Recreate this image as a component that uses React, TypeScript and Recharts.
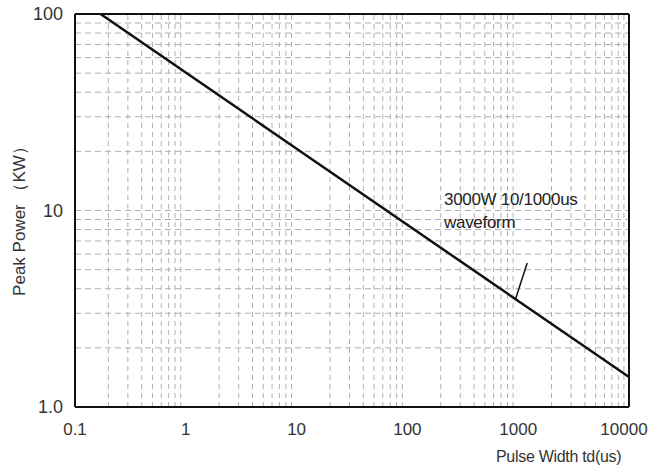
import React from 'react';
import { LineChart, Line, XAxis, YAxis, ReferenceLine } from 'recharts';

const xTicks = [0.1, 1, 10, 100, 1000, 10000];
const yTicks = [1, 10, 100];
const powerCurve = [
  { td: 0.17, kw: 100 },
  { td: 10000, kw: 1.42 },
];
const leaderLine = [
  { x: 1205, y: 5.4 },
  { x: 940, y: 3.5 },
];

const minorX: number[] = [];
for (let d = 0.1; d < 10000; d *= 10) {
  for (let m = 2; m <= 9; m++) minorX.push(+(d * m).toPrecision(3));
}
const minorY: number[] = [];
for (let d = 1; d < 100; d *= 10) {
  for (let m = 2; m <= 9; m++) minorY.push(d * m);
}
minorY.push(10);

const font = '"Liberation Sans", Arial, sans-serif';
const gridStroke = '#b0b0b0';

// last label sits flush with the page edge, nudge it in a bit
const XTick = (props: any) => {
  const { x, y, payload } = props;
  const isLast = payload.value === xTicks[xTicks.length - 1];
  return (
    <text
      x={isLast ? x - 5 : x}
      y={y}
      dy={14}
      textAnchor="middle"
      fill="#333"
      fontSize={17}
      fontFamily={font}
    >
      {payload.value}
    </text>
  );
};

const App: React.FC = () => {
  return (
    <div style={{ position: 'absolute', left: 0, top: 0, width: 650, height: 475, background: '#fff', fontFamily: font }}>
      <LineChart width={650} height={475} data={powerCurve} margin={{ top: 14, right: 21, bottom: 38, left: 15 }}>
        {minorX.map((v) => (
          <ReferenceLine key={'x' + v} x={v} stroke={gridStroke} strokeDasharray="5 4" strokeWidth={1} />
        ))}
        {minorY.map((v) => (
          <ReferenceLine key={'y' + v} y={v} stroke={gridStroke} strokeDasharray="6 4" strokeWidth={1} />
        ))}
        <XAxis
          dataKey="td"
          type="number"
          scale="log"
          domain={[0.1, 10000]}
          ticks={xTicks}
          allowDataOverflow
          tickLine={false}
          axisLine={{ stroke: '#111', strokeWidth: 2 }}
          tick={<XTick />}
          tickMargin={8}
          height={30}
        />
        <YAxis
          dataKey="kw"
          type="number"
          scale="log"
          domain={[1, 100]}
          ticks={yTicks}
          allowDataOverflow
          tickLine={false}
          axisLine={{ stroke: '#111', strokeWidth: 2 }}
          tick={{ fill: '#333', fontSize: 18, fontFamily: font }}
          tickFormatter={(v: number) => (v === 1 ? '1.0' : String(v))}
          tickMargin={6}
          width={60}
        />
        <ReferenceLine y={100} stroke="#111" strokeWidth={2} />
        <ReferenceLine x={10000} stroke="#111" strokeWidth={2} />
        <ReferenceLine
          segment={[leaderLine[0], leaderLine[1]]}
          stroke="#111"
          strokeWidth={1.5}
        />
        <Line
          dataKey="kw"
          stroke="#111"
          strokeWidth={2.5}
          dot={false}
          isAnimationActive={false}
        />
      </LineChart>
      <div style={{ position: 'absolute', left: 444, top: 188, fontSize: 17, color: '#222', lineHeight: '23px', letterSpacing: '-0.3px' }}>
        3000W 10/1000us
        <br />
        waveform
      </div>
      <div style={{ position: 'absolute', left: 496, top: 448, fontSize: 16, color: '#333', letterSpacing: '-0.3px' }}>
        Pulse Width td(us)
      </div>
      <div
        style={{
          position: 'absolute',
          left: 19,
          top: 217,
          fontSize: 17,
          color: '#333',
          whiteSpace: 'nowrap',
          transform: 'translate(-50%, -50%) rotate(-90deg)',
        }}
      >
        Peak Power （KW）
      </div>
    </div>
  );
};

export default App;
